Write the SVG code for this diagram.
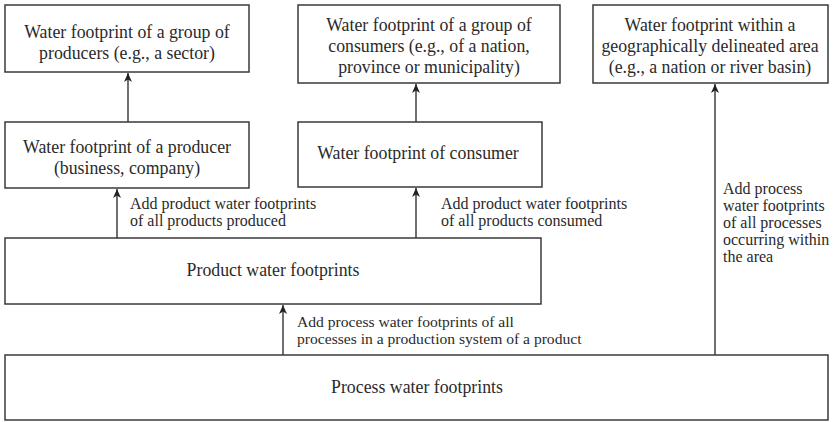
<svg xmlns="http://www.w3.org/2000/svg" width="833" height="422" viewBox="0 0 833 422">
  <style>
    .box { fill: #ffffff; stroke: #3a3a3a; stroke-width: 1.5; }
    .lbl { font-family: "Liberation Serif", "Times New Roman", serif; font-size: 17.8px; fill: #2a2a2a; text-anchor: middle; }
    .note { font-family: "Liberation Serif", "Times New Roman", serif; font-size: 16px; fill: #2a2a2a; }
    .note.tight { font-size: 15.6px; }
    .edge { stroke: #333333; stroke-width: 1.4; fill: none; marker-end: url(#head); }
  </style>
  <defs>
    <marker id="head" markerWidth="10" markerHeight="10" refX="9" refY="5" orient="auto" markerUnits="userSpaceOnUse">
      <path d="M0,1 L9,5 L0,9 L2.5,5 Z" fill="#222222"/>
    </marker>
  </defs>
  <rect width="833" height="422" fill="#ffffff"/>

  <g id="connectors">
    <line class="edge" x1="128" y1="122" x2="128" y2="73"/>
    <line class="edge" x1="416" y1="122" x2="416" y2="84"/>
    <line class="edge" x1="117" y1="238" x2="117" y2="189"/>
    <line class="edge" x1="416" y1="238" x2="416" y2="188"/>
    <line class="edge" x1="283" y1="355" x2="283" y2="305"/>
    <line class="edge" x1="715" y1="355" x2="715" y2="84"/>
    <text class="note" x="130" y="209">Add product water footprints</text>
    <text class="note" x="130" y="226">of all products produced</text>
    <text class="note" x="441" y="209">Add product water footprints</text>
    <text class="note" x="441" y="226">of all products consumed</text>
    <text class="note tight" x="297" y="327">Add process water footprints of all</text>
    <text class="note tight" x="297" y="344">processes in a production system of a product</text>
    <text class="note" x="723" y="194">Add process</text>
    <text class="note" x="723" y="211">water footprints</text>
    <text class="note" x="723" y="228">of all processes</text>
    <text class="note" x="723" y="245">occurring within</text>
    <text class="note" x="723" y="262">the area</text>
  </g>

  <g id="producer-group">
    <rect class="box" x="5" y="5" width="244" height="67"/>
    <text class="lbl" x="127" y="38">Water footprint of a group of</text>
    <text class="lbl" x="127" y="59">producers (e.g., a sector)</text>
  </g>

  <g id="consumer-group">
    <rect class="box" x="298" y="5" width="262" height="78"/>
    <text class="lbl" x="429" y="31">Water footprint of a group of</text>
    <text class="lbl" x="429" y="52">consumers (e.g., of a nation,</text>
    <text class="lbl" x="429" y="73">province or municipality)</text>
  </g>

  <g id="area">
    <rect class="box" x="593" y="5" width="235" height="78"/>
    <text class="lbl" x="710" y="31">Water footprint within a</text>
    <text class="lbl" x="710" y="52">geographically delineated area</text>
    <text class="lbl" x="710" y="73">(e.g., a nation or river basin)</text>
  </g>

  <g id="producer">
    <rect class="box" x="5" y="122" width="244" height="66"/>
    <text class="lbl" x="127" y="153">Water footprint of a producer</text>
    <text class="lbl" x="127" y="174">(business, company)</text>
  </g>

  <g id="consumer">
    <rect class="box" x="298" y="122" width="244" height="65"/>
    <text class="lbl" x="418" y="159">Water footprint of consumer</text>
  </g>

  <g id="product">
    <rect class="box" x="5" y="238" width="536" height="66"/>
    <text class="lbl" x="273" y="276">Product water footprints</text>
  </g>

  <g id="process">
    <rect class="box" x="5" y="355" width="823" height="65"/>
    <text class="lbl" x="417" y="393">Process water footprints</text>
  </g>
</svg>
